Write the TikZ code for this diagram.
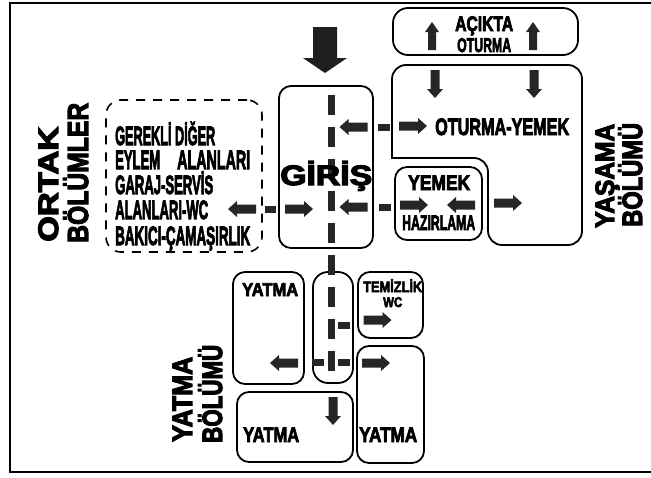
\documentclass[tikz,border=0pt]{standalone}
\usepackage{fontspec}
\setmainfont{Liberation Sans}[BoldFeatures={FakeBold=4}]
\usepackage{graphicx}
\newcommand\fitt[3]{\resizebox{#2pt}{\height}{\fontsize{#1pt}{#1pt}\selectfont\bfseries #3}}
\tikzset{
  box/.style={draw, line width=1.8pt, rounded corners=12pt, inner sep=0pt},
  dbox/.style={draw, line width=1.6pt, rounded corners=15pt, inner sep=0pt, dash pattern=on 9pt off 8pt},
  lbl/.style={inner sep=0pt, anchor=base west},
  vlbl/.style={inner sep=0pt, anchor=base west, rotate=90},
  linkmark/.style={fill=black!85},
  pics/barr/.style={code={\fill[black!85] (-14,-4.5) -- (5,-4.5) -- (5,-8) -- (14,0) -- (5,8) -- (5,4.5) -- (-14,4.5) -- cycle;}},
  pics/sarr/.style={code={\fill[black!85] (-14,-4) -- (4,-4) -- (4,-7) -- (14,0) -- (4,7) -- (4,4) -- (-14,4) -- cycle;}}
}
\begin{document}
\begin{tikzpicture}[x=1pt,y=-1pt]
\useasboundingbox (0,0) rectangle (651,477);
% frame
\draw[line width=2pt] (660,3) -- (10,3) -- (10,472) -- (660,472);

% boxes
\node[box, minimum width=94, minimum height=162] (giris) at (326,167) {};
\node[dbox, minimum width=156, minimum height=152] (ortak) at (184,176) {};
\node[box, rounded corners=15pt, minimum width=185, minimum height=47] (acikta) at (485.5,31.5) {};
\node[box, minimum width=87, minimum height=73] (yemek) at (438.5,203.5) {};
\node[box, rounded corners=15pt, minimum width=40, minimum height=111] (koridor) at (333,327.5) {};
\node[box, minimum width=71, minimum height=112] (yatmaA) at (268.5,328) {};
\node[box, minimum width=65, minimum height=66] (temiz) at (390.5,305) {};
\node[box, minimum width=67, minimum height=117] (yatmaB) at (390.5,404.5) {};
\node[box, minimum width=116, minimum height=70] (yatmaC) at (295,427) {};
% L-shaped living box
\draw[line width=1.8pt] (392,110) [rounded corners=14pt] -- (392,65) -- (582,65) -- (582,245) -- (488,245) -- (488,158) [sharp corners] -- (392,158) [rounded corners=4pt] -- cycle;

% circulation axis
\coordinate (axtop) at (331,95);
\coordinate (axbot) at (331,371);
\draw[line width=7pt, black!85, dash pattern=on 20pt off 12pt] (axtop) -- (axbot);

% big entrance arrow
\fill[black!88] (313,27) -- (337,27) -- (337,58) -- (347,58) -- (325,73) -- (303,58) -- (313,58) -- cycle;

% small arrows
\pic[rotate=90] at (432,36) {sarr};
\pic[rotate=90] at (533,36) {sarr};
\pic[rotate=-90] at (435,84) {barr};
\pic[rotate=-90] at (534,84) {barr};
\pic[rotate=180] at (353.5,127) {barr};
\pic at (413,126) {barr};
\pic[rotate=180] at (353.5,207) {barr};
\pic at (414,205) {barr};
\pic[rotate=180] at (461,205) {barr};
\pic at (508,203) {barr};
\pic at (299,209) {barr};
\pic[rotate=180] at (242,209) {barr};
\pic at (377.5,320) {barr};
\pic at (376,363) {barr};
\pic[rotate=180] at (284,363) {barr};
\pic[rotate=-90] at (333,411) {barr};

% link marks
\fill[linkmark] (378,123.5) rectangle (390,130.5);
\fill[linkmark] (379,203.5) rectangle (391,210.5);
\fill[linkmark] (265,205.5) rectangle (276,212.5);
\fill[linkmark] (338,321.5) rectangle (350,328.5);
\fill[linkmark] (312,358.5) rectangle (324,365.5);
\fill[linkmark] (338,358.5) rectangle (350,365.5);

% texts
\node[vlbl] (tortak) at (58,242) {\fitt{28}{115}{ORTAK}};
\node[vlbl] (tbol1) at (88,243) {\fitt{29}{140}{BÖLÜMLER}};
\node[vlbl] (tyasama) at (614,228) {\fitt{26.5}{104}{YAŞAMA}};
\node[vlbl] (tbol2) at (642,227) {\fitt{28}{104}{BÖLÜMÜ}};
\node[vlbl] (tyatma) at (192,442) {\fitt{28}{85}{YATMA}};
\node[vlbl] (tbol3) at (222,443) {\fitt{28}{98}{BÖLÜMÜ}};

\node[lbl] (tgiris) at (280,185) {\fitt{28}{92}{GİRİŞ}};
\node[lbl] (toy) at (435,135) {\fitt{23.7}{134}{OTURMA-YEMEK}};
\node[lbl] (tac) at (455,31) {\fitt{21}{58}{AÇIKTA}};
\node[lbl] (tot) at (457,52) {\fitt{20}{54}{OTURMA}};
\node[lbl] (tye) at (408,190) {\fitt{21}{62}{YEMEK}};
\node[lbl] (tha) at (402,230) {\fitt{21}{73}{HAZIRLAMA}};

\node[lbl] (to1) at (115,145) {\fitt{26.5}{100}{GEREKLİ DİĞER}};
\node[lbl] (to2a) at (115,169) {\fitt{26.5}{45}{EYLEM}};
\node[lbl] (to2b) at (177,169) {\fitt{26.5}{73}{ALANLARI}};
\node[lbl] (to3) at (115,194) {\fitt{26.5}{98}{GARAJ-SERVİS}};
\node[lbl] (to4) at (115,219) {\fitt{26.5}{93}{ALANLARI-WC}};
\node[lbl] (to5) at (115,245) {\fitt{26.5}{135}{BAKICI-ÇAMAŞIRLIK}};

\node[lbl] (ty1) at (242,296) {\fitt{18.5}{56}{YATMA}};
\node[lbl] (ty2) at (243,442) {\fitt{21}{56}{YATMA}};
\node[lbl] (ty3) at (359,442) {\fitt{21}{58}{YATMA}};
\node[lbl] (tte) at (363,292) {\fitt{15}{59}{TEMİZLİK}};
\node[lbl] (twc) at (383,307) {\fitt{14}{19}{WC}};
\end{tikzpicture}
\end{document}
